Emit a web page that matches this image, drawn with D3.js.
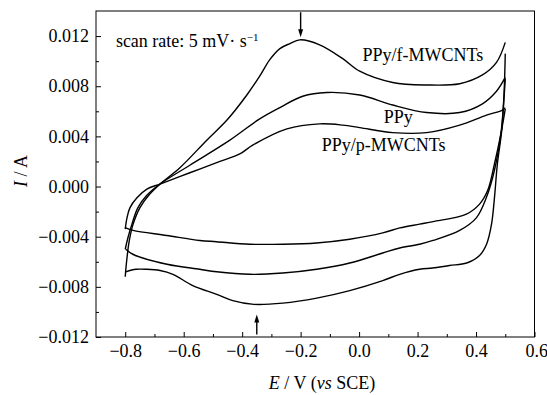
<!DOCTYPE html>
<html>
<head>
<meta charset="utf-8">
<script src="https://cdn.jsdelivr.net/npm/d3@7"></script>
<style>
    html, body { margin: 0; padding: 0; background: #fff; }
    #chart { width: 547px; height: 395px; }
    svg { display: block; }
</style>
</head>
<body>
<div id="chart"></div>
<script>
const xTicks = [-0.8, -0.6, -0.4, -0.2, 0.0, 0.2, 0.4, 0.6];
const xMinor = [-0.7, -0.5, -0.3, -0.1, 0.1, 0.3, 0.5];
const yTicks = [-0.012, -0.008, -0.004, 0.000, 0.004, 0.008, 0.012];
const yMinor = [-0.010, -0.006, -0.002, 0.002, 0.006, 0.010];

// [E / V, I / A], forward (anodic) and reverse (cathodic) scans
const fwdF = [[-0.800,-0.0072],[-0.795,-0.0059],[-0.786,-0.0043],[-0.773,-0.0030],[-0.750,-0.0017],[-0.716,-0.0006],[-0.681,0.0002],[-0.613,0.0015],[-0.521,0.0037],[-0.452,0.0053],[-0.384,0.0073],[-0.340,0.0088],[-0.306,0.0101],[-0.271,0.0110],[-0.237,0.0114],[-0.203,0.0117],[-0.135,0.0113],[-0.056,0.0102],[0.002,0.0092],[0.115,0.0083],[0.231,0.0081],[0.344,0.0082],[0.422,0.0089],[0.470,0.0099],[0.500,0.0115]];
const revF = [[0.500,0.0106],[0.496,0.0075],[0.488,0.0045],[0.473,0.0018],[0.463,-0.0009],[0.453,-0.0030],[0.436,-0.0046],[0.412,-0.0055],[0.368,-0.0061],[0.309,-0.0063],[0.251,-0.0065],[0.207,-0.0066],[0.139,-0.0070],[0.081,-0.0075],[-0.032,-0.0083],[-0.145,-0.0089],[-0.261,-0.0093],[-0.360,-0.0094],[-0.432,-0.0091],[-0.487,-0.0086],[-0.569,-0.0079],[-0.637,-0.0070],[-0.681,-0.0067],[-0.726,-0.0066],[-0.763,-0.0066],[-0.798,-0.0068]];
const fwdP = [[-0.800,-0.0050],[-0.791,-0.0041],[-0.777,-0.0030],[-0.757,-0.0017],[-0.726,-0.0007],[-0.681,0.0002],[-0.579,0.0017],[-0.442,0.0037],[-0.340,0.0054],[-0.271,0.0063],[-0.193,0.0072],[-0.111,0.0075],[0.002,0.0073],[0.115,0.0065],[0.231,0.0059],[0.344,0.0059],[0.422,0.0066],[0.470,0.0076],[0.500,0.0087]];
const revP = [[0.500,0.0086],[0.494,0.0065],[0.485,0.0042],[0.463,0.0013],[0.435,-0.0009],[0.401,-0.0025],[0.344,-0.0035],[0.253,-0.0043],[0.207,-0.0046],[0.139,-0.0049],[0.081,-0.0053],[-0.032,-0.0061],[-0.145,-0.0066],[-0.261,-0.0069],[-0.374,-0.0070],[-0.487,-0.0068],[-0.545,-0.0066],[-0.657,-0.0062],[-0.774,-0.0054],[-0.798,-0.0050]];
const fwdPM = [[-0.800,-0.0034],[-0.794,-0.0025],[-0.784,-0.0017],[-0.760,-0.0009],[-0.726,-0.0002],[-0.681,0.0002],[-0.579,0.0011],[-0.476,0.0020],[-0.408,0.0026],[-0.364,0.0033],[-0.247,0.0046],[-0.135,0.0050],[-0.056,0.0049],[0.002,0.0047],[0.115,0.0043],[0.231,0.0043],[0.344,0.0049],[0.436,0.0057],[0.491,0.0061],[0.500,0.0063]];
const revPM = [[0.500,0.0062],[0.485,0.0042],[0.463,0.0018],[0.440,-0.0003],[0.412,-0.0014],[0.367,-0.0022],[0.253,-0.0028],[0.207,-0.0030],[0.139,-0.0033],[0.081,-0.0037],[-0.032,-0.0042],[-0.146,-0.0045],[-0.260,-0.0046],[-0.374,-0.0046],[-0.488,-0.0044],[-0.545,-0.0043],[-0.658,-0.0039],[-0.773,-0.0035],[-0.798,-0.0033]];

const seriesNames = ['PPy/f-MWCNTs', 'PPy', 'PPy/p-MWCNTs'];
// label anchors in data units [E, I]
const seriesLabelAt = [[0.012, 0.0100], [0.084, 0.0051], [-0.128, 0.0028]];
const peakArrows = [[-0.20, 0.0139, 0.0119], [-0.35, -0.0118, -0.0102]];

const FONT = '"Liberation Serif"';

class CvChart {
    constructor(element) {
        this._width = 547;
        this._height = 395;
        this._margin = {top: 11, right: 12.5, bottom: 58, left: 96};
        this._svg = d3.select(element).append('svg')
            .attr('width', this._width)
            .attr('height', this._height);
        this._x = d3.scaleLinear().domain([-0.9, 0.6])
            .range([this._margin.left, this._width - this._margin.right]);
        this._y = d3.scaleLinear().domain([-0.012, 0.014])
            .range([this._height - this._margin.bottom, this._margin.top]);
        this._drawAxes();
        this._drawCurves();
        this._drawLabels();
        // axis groups carry font-family="sans-serif"
        this._svg.selectAll('g').attr('font-family', null);
        this._svg.selectAll('text').style('font-family', FONT);
    }

    _drawAxes() {
        const x = this._x, y = this._y;
        const bottom = y.range()[0];
        const left = x.range()[0];

        const xAxis = this._svg.append('g')
            .attr('transform', `translate(0,${bottom})`)
            .call(d3.axisBottom(x).tickValues(xTicks).tickFormat(d3.format('.1f'))
                .tickSizeInner(-5).tickSizeOuter(0).tickPadding(7));
        this._svg.append('g')
            .attr('transform', `translate(0,${bottom})`)
            .call(d3.axisBottom(x).tickValues(xMinor).tickFormat('')
                .tickSizeInner(-3).tickSizeOuter(0));

        this._svg.append('g')
            .attr('transform', `translate(${left},0)`)
            .call(d3.axisLeft(y).tickValues(yTicks).tickFormat(d3.format('.3f'))
                .tickSizeInner(-5).tickSizeOuter(0).tickPadding(7));
        this._svg.append('g')
            .attr('transform', `translate(${left},0)`)
            .call(d3.axisLeft(y).tickValues(yMinor).tickFormat('')
                .tickSizeInner(-3).tickSizeOuter(0));

        this._svg.selectAll('.domain').remove();
        this._svg.selectAll('.tick line').attr('stroke', '#000').attr('stroke-width', 1);
        this._svg.selectAll('.tick text')
            .attr('font-size', 18)
            .attr('fill', '#000');
        // last x label sits on the frame edge
        xAxis.selectAll('.tick text').filter(d => d === 0.6).attr('dx', '0.1em');

        this._svg.append('rect')
            .attr('x', left)
            .attr('y', y.range()[1])
            .attr('width', x.range()[1] - left)
            .attr('height', bottom - y.range()[1])
            .attr('fill', 'none')
            .attr('stroke', '#000')
            .attr('stroke-width', 1);

        const xTitle = this._svg.append('text')
            .attr('x', 322)
            .attr('y', 389)
            .attr('text-anchor', 'middle')
            .attr('font-size', 18);
        xTitle.append('tspan').attr('font-style', 'italic').text('E');
        xTitle.append('tspan').text(' / V (');
        xTitle.append('tspan').attr('font-style', 'italic').text('vs');
        xTitle.append('tspan').text(' SCE)');

        const yTitle = this._svg.append('text')
            .attr('transform', 'translate(27,171) rotate(-90)')
            .attr('text-anchor', 'middle')
            .attr('font-size', 18);
        yTitle.append('tspan').attr('font-style', 'italic').text('I');
        yTitle.append('tspan').text(' / A');
    }

    _drawCurves() {
        const line = d3.line()
            .x(d => this._x(d[0]))
            .y(d => this._y(d[1]))
            .curve(d3.curveCatmullRom.alpha(0.5));
        this._svg.append('g')
            .attr('class', 'curves')
            .selectAll('path')
            .data([fwdF, revF, fwdP, revP, fwdPM, revPM])
            .enter().append('path')
            .attr('d', line)
            .attr('fill', 'none')
            .attr('stroke', '#000')
            .attr('stroke-width', 1.4)
            .attr('stroke-linejoin', 'round');
    }

    _drawLabels() {
        const x = this._x, y = this._y;
        this._svg.append('g')
            .selectAll('text')
            .data(seriesNames)
            .enter().append('text')
            .attr('x', (d, i) => x(seriesLabelAt[i][0]))
            .attr('y', (d, i) => y(seriesLabelAt[i][1]))
            .attr('font-size', 18)
            .text(d => d);

        const scan = this._svg.append('text')
            .attr('x', x(-0.832))
            .attr('y', y(0.0111))
            .attr('font-size', 18);
        scan.append('tspan').text('scan rate: 5 mV\u00b7 s');
        scan.append('tspan').attr('font-size', 11).attr('dy', '-0.55em').text('\u22121');

        const arrows = this._svg.append('g').attr('class', 'arrows');
        peakArrows.forEach(([e, from, to]) => {
            const ax = x(e), y0 = y(from), y1 = y(to);
            const dir = y1 > y0 ? 1 : -1;
            arrows.append('line')
                .attr('x1', ax).attr('x2', ax)
                .attr('y1', y0).attr('y2', y1 - dir * 6)
                .attr('stroke', '#000')
                .attr('stroke-width', 1.4);
            arrows.append('path')
                .attr('d', `M${ax - 2.5},${y1 - dir * 8}L${ax},${y1}L${ax + 2.5},${y1 - dir * 8}Z`)
                .attr('fill', '#000');
        });
    }
}

new CvChart(document.getElementById('chart'));
</script>
</body>
</html>
